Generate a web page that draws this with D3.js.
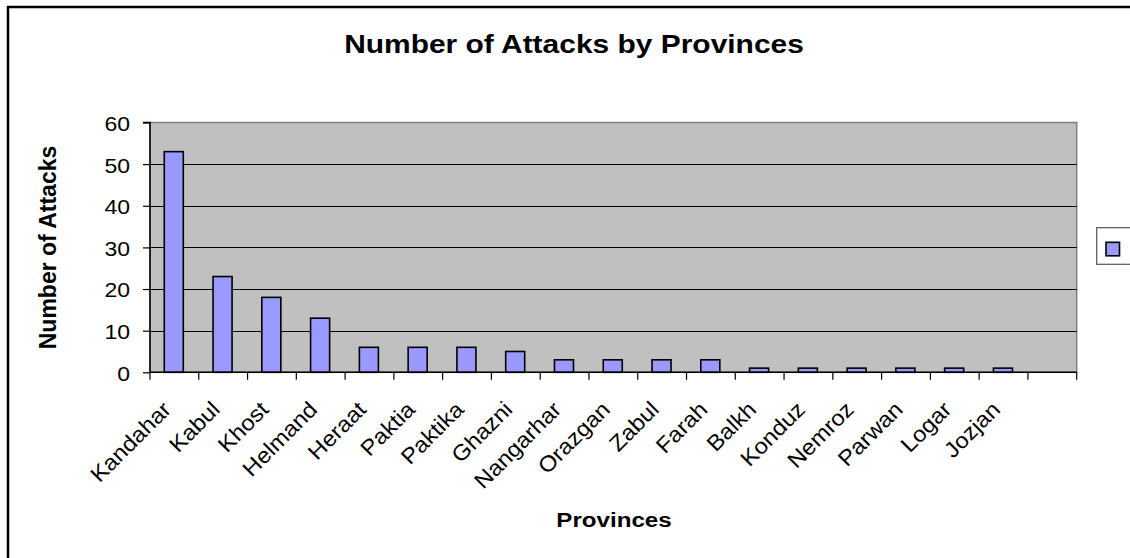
<!DOCTYPE html>
<html>
<head>
<meta charset="utf-8">
<script src="https://cdn.jsdelivr.net/npm/d3@7"></script>
<style>
  html, body { margin: 0; padding: 0; background: #fff; }
  svg { display: block; }
  text { font-family: Arial, "Liberation Sans", sans-serif; fill: #000; }
</style>
</head>
<body>
<svg id="chart" width="1130" height="558"></svg>
<script>
const provinces = ["Kandahar","Kabul","Khost","Helmand","Heraat","Paktia","Paktika","Ghazni","Nangarhar","Orazgan","Zabul","Farah","Balkh","Konduz","Nemroz","Parwan","Logar","Jozjan",""];
const attacks = [53,23,18,13,6,6,6,5,3,3,3,3,1,1,1,1,1,1,null];
const yTicks = [0,10,20,30,40,50,60];
const chartTitle = "Number of Attacks by Provinces";
const xTitle = "Provinces";
const yTitle = "Number of Attacks";

const svg = d3.select("#chart");
const SX = 1.15;
const plot = {left: 150, top: 122.5, right: 1076.7, bottom: 372.3};

// outer frame
svg.append("rect").attr("x", 8).attr("y", 7).attr("width", 1140).attr("height", 570)
  .attr("fill", "#fff").attr("stroke", "#000").attr("stroke-width", 2.5);

const x = d3.scaleBand().domain(d3.range(provinces.length)).range([plot.left, plot.right]).padding(0);
const y = d3.scaleLinear().domain([0, 60]).range([plot.bottom, plot.top]);

// plot background
svg.append("rect").attr("x", plot.left).attr("y", plot.top)
  .attr("width", plot.right - plot.left).attr("height", plot.bottom - plot.top)
  .attr("fill", "#c0c0c0").attr("stroke", "#808080").attr("stroke-width", 1.5);

// gridlines
svg.append("g").selectAll("line").data(yTicks.filter(t => t > 0 && t < 60)).join("line")
  .attr("x1", plot.left).attr("x2", plot.right)
  .attr("y1", d => Math.round(y(d)) + 0.5).attr("y2", d => Math.round(y(d)) + 0.5)
  .attr("stroke", "#000").attr("stroke-width", 1);

// bars
const bw = x.step() * 0.39;
svg.append("g").selectAll("rect").data(attacks.map((v, i) => ({v, i})).filter(d => d.v != null)).join("rect")
  .attr("x", d => x(d.i) + x.step() / 2 - bw / 2 - 0.6)
  .attr("y", d => y(d.v))
  .attr("width", bw)
  .attr("height", d => y(0) - y(d.v))
  .attr("fill", "#9999ff").attr("stroke", "#000").attr("stroke-width", 1.6);

// y axis
const yAxis = d3.axisLeft(y).tickValues(yTicks).tickSize(7).tickPadding(5);
const gy = svg.append("g").attr("transform", `translate(${plot.left},0)`).call(yAxis);
gy.select(".domain").attr("stroke", "#000").attr("stroke-width", 1.5).attr("d", `M-7,${plot.top}H0V${plot.bottom}`);
gy.selectAll(".tick line").attr("stroke", "#000").attr("stroke-width", 1.2);
gy.selectAll(".tick text").attr("font-size", 20).attr("font-family", "Arial, 'Liberation Sans', sans-serif")
  .attr("fill", "#000").attr("text-anchor", "end").attr("x", null).attr("dy", null)
  .attr("transform", d => `translate(-20,1) scale(${SX},1)`).attr("dominant-baseline", "central");

// x axis
const xTickPos = d3.range(provinces.length + 1).map(i => plot.left + i * x.step());
const gx = svg.append("g");
gx.append("line").attr("x1", plot.left).attr("x2", plot.right).attr("y1", plot.bottom).attr("y2", plot.bottom)
  .attr("stroke", "#000").attr("stroke-width", 1.5);
gx.selectAll("line.tk").data(xTickPos).join("line").attr("class", "tk")
  .attr("x1", d => d).attr("x2", d => d).attr("y1", plot.bottom).attr("y2", plot.bottom + 7.5)
  .attr("stroke", "#000").attr("stroke-width", 1.2);
gx.selectAll("text").data(provinces.map((p, i) => ({p, i})).filter(d => d.p)).join("text")
  .attr("transform", d => `translate(${x(d.i) + x.step() / 2 - 2},${plot.bottom + 38.5}) rotate(-45) scale(1.08,1)`)
  .attr("text-anchor", "end").attr("font-size", 22).text(d => d.p);

// titles
svg.append("text").attr("transform", `translate(574,53) scale(1.13,1)`)
  .attr("text-anchor", "middle").attr("font-size", 26.5).attr("font-weight", "bold").text(chartTitle);
svg.append("text").attr("transform", `translate(614,526.5) scale(${SX},1)`)
  .attr("text-anchor", "middle").attr("font-size", 21).attr("font-weight", "bold").text(xTitle);
svg.append("text").attr("transform", `translate(56,247.5) scale(1.07,1) rotate(-90)`)
  .attr("text-anchor", "middle").attr("font-size", 23).attr("font-weight", "bold").text(yTitle);

// legend
svg.append("rect").attr("x", 1096.7).attr("y", 227.7).attr("width", 60).attr("height", 36.6)
  .attr("fill", "#fff").attr("stroke", "#555").attr("stroke-width", 1.2);
svg.append("rect").attr("x", 1106).attr("y", 242.3).attr("width", 13.5).attr("height", 13.5)
  .attr("fill", "#9999ff").attr("stroke", "#000").attr("stroke-width", 1.6);
</script>
</body>
</html>
